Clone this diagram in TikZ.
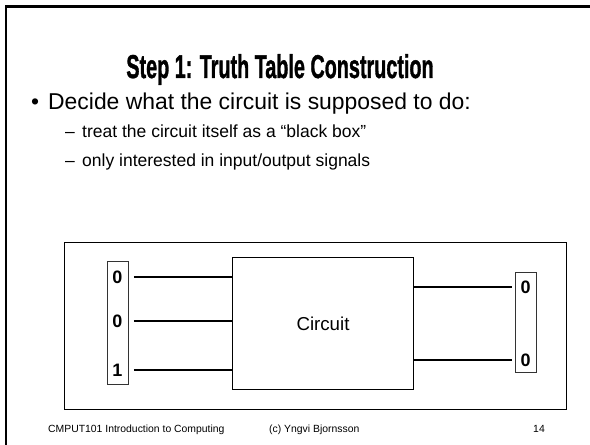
\documentclass[tikz,border=0pt]{standalone}
\usepackage{fontspec}
\setmainfont{Liberation Sans}
\newfontfamily\headfont[FakeBold=1.5]{Liberation Sans Bold}
\begin{document}
\begin{tikzpicture}[x=1bp,y=-1bp,
  slideframe/.style={line width=2.6bp},
  bigbox/.style={draw, line width=1.3bp, inner sep=0pt, anchor=north west},
  bitbox/.style={draw=black!80, line width=0.9bp, inner sep=0pt, anchor=north west, minimum width=21bp},
  bit/.style={font=\fontsize{18bp}{18bp}\selectfont\bfseries, inner sep=0pt, anchor=center},
  wire/.style={line width=1.2bp},
  headline/.style={font=\fontsize{33bp}{36bp}\headfont, inner sep=0pt, anchor=base},
  bodytext/.style={font=\fontsize{22.9bp}{26bp}\selectfont, inner sep=0pt, anchor=base west},
  subtext/.style={font=\fontsize{17.5bp}{20bp}\selectfont, inner sep=0pt, anchor=base west},
  foot/.style={font=\fontsize{10.4bp}{12bp}\selectfont, inner sep=0pt}]
\useasboundingbox (0,0) rectangle (590,445);
\fill[white] (0,0) rectangle (590,445);

% slide edge
\draw[slideframe] (6,445) -- (6,6.5) -- (590,6.5);

% heading and bullets
\node[headline] (title) at (280,78) {\scalebox{0.6}[1]{Step 1: Truth Table Construction}};
\node[bodytext] (dot) at (31,110) {•};
\node[bodytext] (decide) at (48,110) {Decide what the circuit is supposed to do:};
\node[subtext] (dash1) at (65,138) {–};
\node[subtext] (treat) at (82,138) {treat the circuit itself as a “black box”};
\node[subtext] (dash2) at (65,167) {–};
\node[subtext] (only) at (82,167) {only interested in input/output signals};

% black-box diagram
\node[bigbox, minimum width=502bp, minimum height=167bp] (frame) at (64,242) {};
\node[bigbox, line width=1bp, minimum width=181bp, minimum height=132bp,
      font=\fontsize{18.7bp}{20bp}\selectfont] (circ) at (232,257) {Circuit};

\node[bitbox, minimum height=123bp] (inbox) at (107,261) {};
\node[bit] (i1) at (117.5,277) {0};
\node[bit] (i2) at (117.5,321) {0};
\node[bit] (i3) at (117.5,370) {1};

\node[bitbox, minimum height=100bp] (outbox) at (515,272) {};
\node[bit] (o1) at (525.5,287) {0};
\node[bit] (o2) at (525.5,360) {0};

\foreach \n in {i1,i2,i3}
  \draw[wire] ([xshift=5bp]inbox.east |- \n.center) -- (circ.west |- \n.center);
\foreach \n in {o1,o2}
  \draw[wire] (circ.east |- \n.center) -- ([xshift=-3bp]outbox.west |- \n.center);

% footer
\node[foot, anchor=base west] (course) at (48,432) {CMPUT101 Introduction to Computing};
\node[foot, anchor=base west] (author) at (269,432) {(c) Yngvi Bjornsson};
\node[foot, anchor=base east] (page) at (545,432) {14};
\end{tikzpicture}
\end{document}
